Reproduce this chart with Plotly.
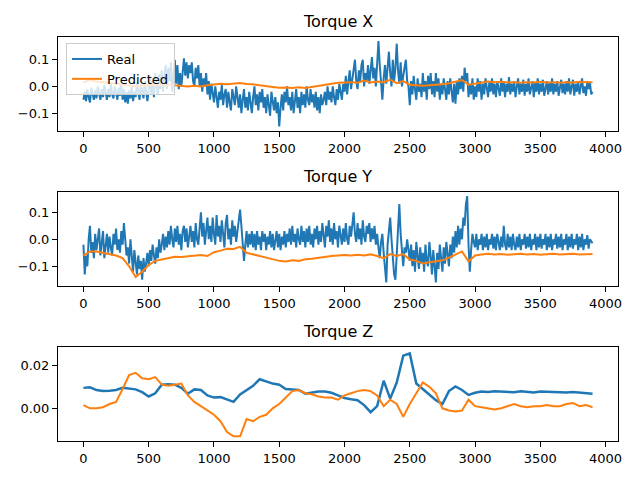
import plotly.graph_objects as go
from plotly.subplots import make_subplots

# sample index of the readings
idx_dense = list(range(0, 3901, 10))
idx_coarse = list(range(0, 3901, 50))

real_x = [
    -0.05, -0.02, -0.055, -0.01, -0.04, -0.06, -0.005, -0.035, -0.05, -0.015,
    -0.045, 0.0, -0.03, -0.05, -0.01, -0.04, 0.005, -0.025, -0.05, -0.01,
    -0.04, 0.01, -0.03, -0.045, 0.0, -0.02, -0.05, -0.005, -0.035, 0.01,
    -0.05, -0.01, -0.06, -0.02, -0.065, -0.015, -0.045, 0.0, -0.055, -0.02,
    -0.04, 0.015, -0.03, -0.05, 0.01, -0.02, -0.045, 0.02, -0.03, -0.055,
    -0.01, 0.04, -0.03, 0.02, -0.04, 0.05, 0.0, -0.03, 0.045, -0.01,
    0.06, -0.02, 0.04, 0.08, -0.01, 0.07, 0.02, 0.09, -0.02, 0.06,
    0.1, 0.01, 0.08, -0.01, 0.05, 0.0, 0.06, 0.105, 0.04, 0.09,
    0.03, 0.08, 0.05, 0.09, 0.02, 0.0, 0.07, 0.03, 0.08, 0.0,
    0.05, -0.02, 0.03, 0.0, 0.05, -0.03, 0.02, -0.05, 0.01, -0.03,
    -0.06, 0.0, -0.04, -0.08, -0.02, -0.05, 0.005, -0.07, -0.03, -0.01,
    -0.08, -0.02, -0.06, -0.09, -0.01, -0.05, -0.07, 0.0, -0.04, -0.08,
    -0.03, -0.1, -0.05, -0.01, -0.08, -0.04, -0.09, -0.02, -0.06, -0.1,
    -0.04, 0.0, -0.07, -0.03, -0.09, -0.02, -0.06, -0.01, -0.08, -0.04,
    -0.1, -0.03, -0.07, -0.11, -0.02, -0.06, -0.09, -0.04, -0.1, -0.06,
    -0.15, -0.08, -0.03, -0.09, -0.02, -0.06, 0.0, -0.07, -0.04, -0.09,
    -0.02, -0.1, -0.05, -0.01, -0.08, -0.04, -0.1, -0.02, -0.07, -0.03,
    -0.08, 0.0, -0.05, -0.07, -0.01, -0.06, -0.03, -0.08, -0.02, -0.09,
    -0.04, -0.1, -0.03, -0.07, -0.05, -0.02, -0.07, 0.0, -0.05, -0.02,
    -0.06, 0.0, -0.04, -0.07, -0.01, -0.05, 0.01, -0.03, -0.05, 0.01,
    -0.02, 0.04, -0.03, 0.02, 0.06, -0.01, 0.03, 0.07, 0.1, 0.02,
    -0.01, 0.06, 0.02, 0.08, 0.1, 0.0, 0.05, 0.02, 0.08, 0.01,
    0.06, 0.11, 0.03, 0.07, 0.0, 0.09, 0.17, 0.08, 0.02, -0.05,
    0.03, 0.08, 0.01, 0.06, 0.13, 0.05, 0.0, 0.1, 0.02, 0.07,
    0.16, 0.06, 0.01, 0.09, 0.0, 0.04, 0.08, 0.1, 0.02, 0.0,
    -0.07, 0.02, -0.03, 0.04, -0.01, -0.05, 0.03, -0.02, 0.01, -0.04,
    0.05, -0.02, 0.02, -0.05, 0.04, -0.01, 0.05, -0.03, 0.02, -0.04,
    0.05, -0.02, 0.03, -0.05, 0.01, -0.03, 0.03, -0.01, -0.05, 0.02,
    -0.03, 0.03, -0.02, -0.06, 0.01, -0.065, 0.02, -0.03, 0.03, -0.01,
    0.04, -0.02, 0.07, 0.02, 0.05, -0.04, 0.01, -0.03, 0.03, -0.05,
    0.0, -0.04, 0.03, -0.02, 0.02, -0.05, 0.01, -0.03, 0.03, -0.01,
    -0.04, 0.02, -0.02, 0.03, -0.03, 0.01, -0.04, 0.02, -0.01, -0.035,
    0.03, -0.02, 0.02, -0.04, 0.01, -0.02, 0.035, -0.03, 0.01, -0.02,
    0.02, -0.04, 0.0, 0.03, -0.03, 0.01, -0.02, 0.025, -0.035, 0.01,
    -0.02, 0.03, -0.03, 0.0, 0.02, -0.04, 0.015, -0.02, 0.03, -0.03,
    0.01, -0.02, 0.025, -0.035, 0.0, 0.02, -0.03, 0.015, -0.02, 0.03,
    -0.03, 0.01, -0.02, 0.02, -0.035, 0.005, 0.025, -0.025, 0.01, -0.03,
    0.02, -0.02, 0.03, -0.03, 0.0, 0.025, -0.035, 0.01, -0.02, 0.02,
    -0.03, 0.01, 0.03, -0.025, 0.0, -0.035, 0.02, -0.01, 0.015, -0.03,
    -0.02,
]

real_y = [
    -0.02, -0.13, -0.06, -0.1, 0.0, 0.05, -0.05, -0.01, -0.07, 0.02,
    -0.04, 0.0, 0.04, -0.06, -0.02, 0.03, -0.07, -0.01, 0.02, -0.05,
    0.01, -0.03, -0.06, 0.02, -0.02, 0.04, -0.04, 0.0, -0.05, 0.03,
    -0.02, 0.06, -0.01, -0.06, -0.03, -0.09, 0.0, -0.07, -0.12, -0.04,
    -0.1, -0.13, -0.06, -0.11, -0.08, -0.15, -0.07, -0.12, -0.09, -0.05,
    -0.1, -0.04, -0.08, -0.02, -0.06, -0.09, -0.03, -0.07, 0.0, -0.05,
    -0.02, 0.02, -0.04, 0.01, -0.03, 0.03, -0.02, 0.05, 0.0, -0.03,
    0.04, -0.01, 0.05, -0.02, 0.02, -0.04, 0.03, 0.05, -0.01, 0.04,
    -0.03, 0.02, 0.05, -0.01, 0.03, -0.03, 0.06, 0.0, -0.02, 0.04,
    0.1, 0.01, 0.06, -0.02, 0.04, 0.08, 0.0, 0.05, -0.01, 0.08,
    0.02, -0.02, 0.09, 0.01, 0.05, -0.01, 0.07, 0.02, -0.03, 0.06,
    0.09, 0.0, 0.04, -0.02, 0.07, 0.01, 0.05, -0.01, 0.03, 0.08,
    0.11, 0.05, -0.03, -0.08, -0.02, 0.03, -0.03, 0.02, -0.02, 0.03,
    -0.03, 0.02, -0.04, 0.03, -0.02, 0.01, -0.04, 0.03, -0.01, 0.02,
    -0.04, 0.01, -0.02, 0.03, -0.03, 0.02, -0.04, 0.0, 0.03, -0.03,
    0.02, -0.04, 0.01, -0.02, 0.03, -0.03, 0.02, -0.01, 0.04, -0.02,
    0.05, -0.01, 0.02, -0.03, 0.04, 0.0, -0.02, 0.05, -0.01, 0.03,
    -0.03, 0.04, -0.01, 0.05, -0.02, 0.02, -0.03, 0.04, 0.0, 0.05,
    -0.02, 0.03, -0.01, 0.06, 0.0, -0.03, 0.05, 0.01, 0.07, -0.01,
    0.04, -0.02, 0.06, 0.0, 0.03, -0.03, 0.05, 0.01, -0.02, 0.04,
    -0.01, 0.06, 0.0, -0.02, 0.05, 0.01, 0.07, 0.1, 0.02, -0.01,
    0.06, 0.0, 0.04, -0.02, 0.07, 0.01, -0.01, 0.05, 0.02, 0.06,
    -0.01, 0.04, 0.0, 0.05, -0.02, 0.02, -0.03, -0.07, -0.01, 0.02,
    -0.05, -0.12, -0.16, -0.02, 0.05, 0.08, 0.0, -0.08, -0.13, -0.15,
    -0.05, 0.08, 0.13, 0.02, -0.06, -0.1, -0.03, -0.05, 0.0, -0.04,
    -0.08, -0.02, -0.1, -0.04, -0.12, -0.01, -0.07, -0.11, -0.03, -0.09,
    -0.05, -0.12, -0.02, -0.08, -0.1, -0.01, -0.06, -0.13, -0.04, -0.09,
    -0.16, -0.05, -0.11, -0.02, -0.08, -0.12, -0.03, -0.09, -0.01, -0.06,
    -0.1, -0.02, -0.07, 0.01, -0.05, 0.03, -0.03, 0.05, -0.02, 0.04,
    0.0, 0.08, 0.05, 0.13, 0.16, -0.02, -0.12, -0.04, 0.02, -0.01,
    -0.03, 0.02, -0.04, 0.0, -0.02, 0.02, -0.04, 0.01, -0.03, 0.02,
    -0.04, 0.0, -0.02, 0.02, -0.035, 0.01, -0.04, 0.02, -0.02, -0.04,
    0.01, -0.03, 0.05, -0.02, -0.04, 0.02, -0.03, 0.01, -0.04, 0.02,
    -0.02, -0.04, 0.01, -0.03, 0.02, -0.04, 0.0, -0.02, 0.02, -0.035,
    0.01, -0.03, 0.02, -0.04, 0.0, -0.02, 0.02, -0.04, 0.01, -0.03,
    0.02, -0.035, 0.0, -0.02, 0.02, -0.04, 0.01, -0.03, 0.02, -0.04,
    0.0, -0.02, 0.02, -0.035, 0.01, -0.03, 0.02, -0.04, 0.0, -0.02,
    0.02, -0.04, 0.01, -0.03, 0.02, -0.035, 0.0, -0.02, 0.02, -0.04,
    0.01, -0.03, 0.02, -0.04, 0.0, -0.02, 0.015, -0.035, 0.0, -0.01,
    -0.015,
]

pred_x = [
    0.015, 0.025, 0.018, 0.016, 0.012, 0.01, 0.007, 0.004,
    0.0, 0.002, 0.004, 0.006, 0.005, 0.007, 0.004, 0.001,
    0.0, 0.002, 0.0, 0.004, 0.008, 0.01, 0.008, 0.011,
    0.013, 0.009, 0.008, 0.004, 0.002, -0.002, -0.005, -0.004,
    -0.006, -0.003, -0.006, -0.002, 0.004, 0.008, 0.01, 0.014,
    0.015, 0.016, 0.014, 0.022, 0.015, 0.018, 0.016, 0.025,
    0.012, 0.02, 0.006, 0.003, 0.002, 0.004, 0.005, 0.008,
    0.012, 0.017, 0.024, 0.006, 0.01, 0.015, 0.018, 0.016,
    0.017, 0.015, 0.016, 0.014, 0.016, 0.015, 0.017, 0.015,
    0.016, 0.014, 0.016, 0.015, 0.017, 0.016, 0.016,
]

pred_y = [
    -0.06, -0.045, -0.045, -0.05, -0.055, -0.06, -0.07, -0.1,
    -0.14, -0.12, -0.095, -0.08, -0.075, -0.07, -0.065, -0.066,
    -0.063, -0.062, -0.058, -0.062, -0.048, -0.042, -0.035, -0.036,
    -0.028, -0.05, -0.055, -0.062, -0.068, -0.075, -0.08, -0.082,
    -0.078, -0.08, -0.074, -0.072, -0.068, -0.066, -0.062, -0.06,
    -0.058, -0.06, -0.057, -0.06, -0.056, -0.062, -0.07, -0.055,
    -0.062, -0.055, -0.075, -0.08, -0.09, -0.085, -0.082, -0.078,
    -0.068, -0.055, -0.045, -0.082, -0.06, -0.056, -0.054, -0.056,
    -0.055, -0.057, -0.055, -0.054, -0.056, -0.055, -0.057, -0.055,
    -0.054, -0.056, -0.055, -0.054, -0.056, -0.055, -0.055,
]

real_z = [
    0.0095, 0.0098, 0.0085, 0.008, 0.0082, 0.0085, 0.0095, 0.0093,
    0.0088, 0.0075, 0.0055, 0.007, 0.011, 0.0112, 0.011, 0.0095,
    0.0068, 0.0088, 0.0085, 0.006, 0.005, 0.0052, 0.0042, 0.003,
    0.0065, 0.0085, 0.0105, 0.0135, 0.0125, 0.0115, 0.011, 0.009,
    0.0088, 0.0085, 0.0068, 0.0072, 0.0078, 0.0078, 0.0072, 0.006,
    0.0048, 0.0042, 0.0038, 0.0015, -0.0018, 0.001, 0.0128, 0.0045,
    0.012, 0.0245, 0.0255, 0.0115, 0.0088, 0.0065, 0.0038, 0.002,
    0.008, 0.0102, 0.0085, 0.0062, 0.0072, 0.0078, 0.0076, 0.0079,
    0.0077, 0.0078, 0.0075, 0.0079, 0.0077, 0.0074, 0.0078, 0.0076,
    0.0077, 0.0075, 0.0073, 0.0076, 0.0074, 0.0072, 0.0068,
]

pred_z = [
    0.0015, 0.0, 0.0, 0.0005, 0.002, 0.003, 0.009, 0.0155,
    0.0165, 0.014, 0.0135, 0.0145, 0.011, 0.0105, 0.011, 0.0115,
    0.006, 0.003, 0.001, -0.001, -0.003, -0.006, -0.011, -0.013,
    -0.013, -0.005, -0.006, -0.004, -0.003, 0.0, 0.002, 0.005,
    0.008, 0.0085, 0.007, 0.0065, 0.0055, 0.005, 0.005, 0.004,
    0.006, 0.007, 0.008, 0.0085, 0.008, 0.006, 0.001, 0.004,
    0.002, -0.004, 0.002, 0.007, 0.012, 0.01, 0.007, 0.0,
    -0.001, -0.0015, -0.001, 0.004, 0.001, 0.0005, 0.0, -0.0005,
    0.0, 0.001, 0.002, 0.001, 0.0005, 0.001, 0.001, 0.0015,
    0.001, 0.001, 0.002, 0.0025, 0.001, 0.0015, 0.0005,
]

titles = ["Torque X", "Torque Y", "Torque Z"]
x_ticks = [0, 500, 1000, 1500, 2000, 2500, 3000, 3500, 4000]

panels = [
    (real_x, pred_x, idx_dense, 2, [-0.167, 0.185], [-0.1, 0.0, 0.1], ["\u22120.1", "0.0", "0.1"]),
    (real_y, pred_y, idx_dense, 2, [-0.173, 0.175], [-0.1, 0.0, 0.1], ["\u22120.1", "0.0", "0.1"]),
    (real_z, pred_z, idx_coarse, 2.5, [-0.0152, 0.0285], [0.0, 0.02], ["0.00", "0.02"]),
]
y_domains = [[0.7271, 0.9229], [0.4042, 0.6], [0.0812, 0.2771]]
title_y = [1 - 22 / 480, 1 - 176 / 480, 1 - 331 / 480]

fig = make_subplots(rows=3, cols=1)

for i, (real, pred, idx_real, lw, yr, yt, ytt) in enumerate(panels):
    row = i + 1
    fig.add_trace(go.Scatter(x=idx_real, y=real, mode="lines", name="Real",
                             line=dict(color="#1f77b4", width=lw), showlegend=(i == 0)),
                  row=row, col=1)
    fig.add_trace(go.Scatter(x=idx_coarse, y=pred, mode="lines", name="Predicted",
                             line=dict(color="#ff7f0e", width=2), showlegend=(i == 0)),
                  row=row, col=1)
    fig.update_xaxes(domain=[0.0906, 0.9656], range=[-195, 4095], tickvals=x_ticks,
                     row=row, col=1)
    fig.update_yaxes(domain=y_domains[i], range=yr, tickvals=yt, ticktext=ytt,
                     row=row, col=1)
    fig.add_annotation(text=titles[i], xref="paper", yref="paper",
                       x=0.528, y=title_y[i], xanchor="center", yanchor="middle",
                       showarrow=False, font=dict(size=16, color="black"))

axis_style = dict(showline=True, mirror=True, linecolor="black", linewidth=1,
                  ticks="outside", ticklen=5, tickwidth=1, tickcolor="black",
                  showgrid=False, zeroline=False, automargin=False,
                  tickfont=dict(size=13, color="black"))
fig.update_xaxes(**axis_style)
fig.update_yaxes(**axis_style)

fig.update_layout(
    width=640, height=480,
    margin=dict(l=0, r=0, t=0, b=0, autoexpand=False),
    paper_bgcolor="white", plot_bgcolor="white",
    font=dict(family="DejaVu Sans", color="black"),
    legend=dict(x=66 / 640, y=1 - 43 / 480, xanchor="left", yanchor="top",
                bgcolor="rgba(255,255,255,0.8)", bordercolor="#cccccc", borderwidth=1,
                font=dict(size=13), tracegroupgap=2),
)

# page body has a default 8px margin; drop it so the figure sits at the corner
fig.write_html("out.html", config={"displayModeBar": False},
               post_script="document.body.style.margin = '0';")
